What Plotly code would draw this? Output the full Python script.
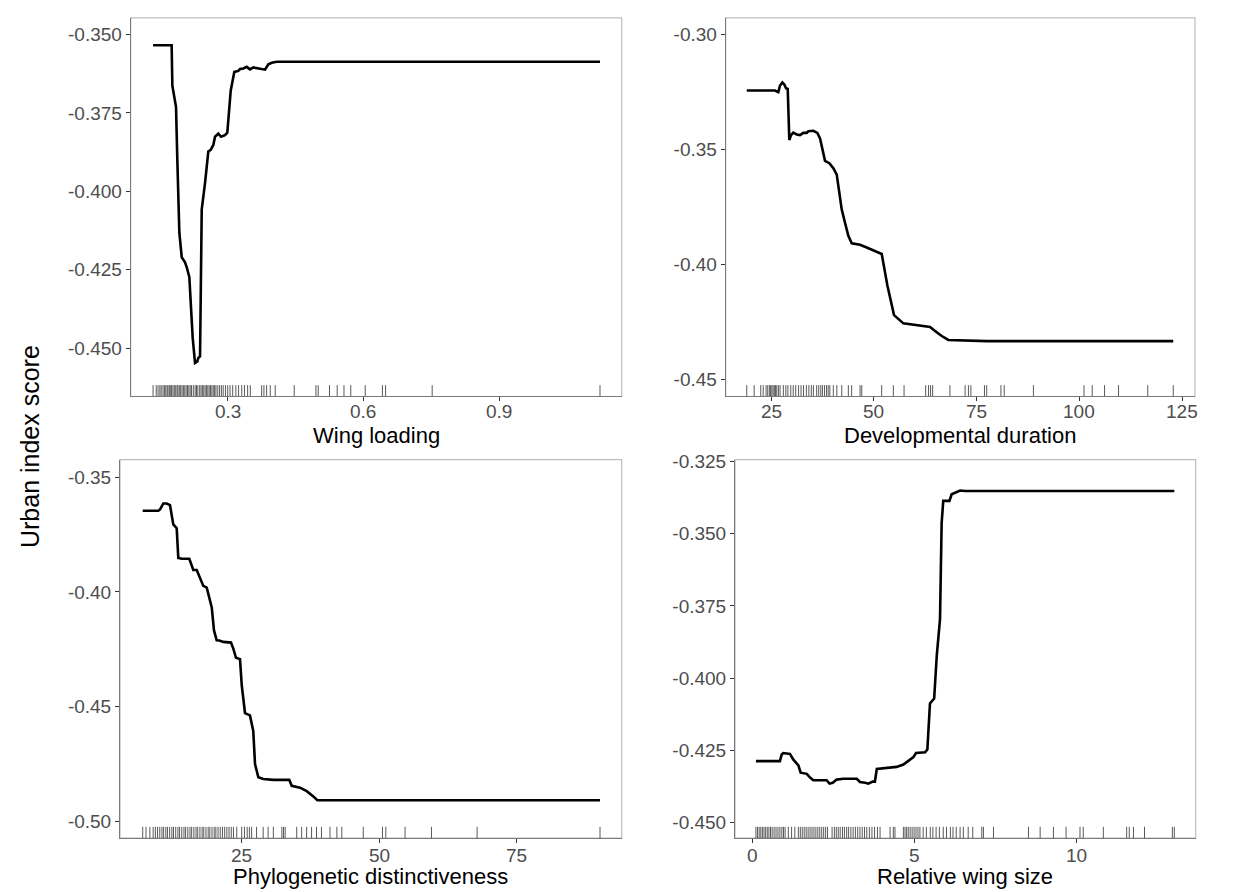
import plotly.graph_objects as go

# ---- Partial dependence curves (feature value, urban index score) ----
wl_x = [0.135, 0.176, 0.1776, 0.1857, 0.1886, 0.1930, 0.1983, 0.2056, 0.2094, 0.2151,
        0.2226, 0.2277, 0.2328, 0.2350, 0.2388, 0.2410, 0.2425, 0.2498, 0.2571, 0.2624,
        0.2682, 0.2719, 0.2792, 0.2852, 0.2940, 0.2991, 0.3066, 0.3146, 0.3234, 0.3272,
        0.3345, 0.3420, 0.3493, 0.3566, 0.3825, 0.3898, 0.3973, 0.4083, 1.123]
wl_y = [-0.3534, -0.3534, -0.3663, -0.3731, -0.3900, -0.4131, -0.4210, -0.4226, -0.4242, -0.4273,
        -0.4468, -0.4547, -0.4542, -0.4531, -0.4526, -0.4215, -0.4058, -0.3974, -0.3873, -0.3868,
        -0.3852, -0.3826, -0.3816, -0.3826, -0.3821, -0.3813, -0.3679, -0.3619, -0.3616, -0.3610,
        -0.3608, -0.3603, -0.3611, -0.3605, -0.3612, -0.3595, -0.3590, -0.3587, -0.3587]

dd_x = [19.1, 25.97, 26.78, 27.19, 27.75, 28.24, 28.65, 29.06, 29.45, 29.86,
        30.42, 31.25, 32.05, 32.86, 33.68, 34.07, 35.29, 36.26, 36.92, 37.72,
        38.13, 39.18, 40.15, 40.98, 42.19, 42.99, 43.80, 44.63, 46.65, 48.27,
        50.71, 51.92, 53.29, 54.91, 57.18, 59.61, 62.45, 63.67, 64.88, 66.51,
        68.11, 72.59, 77.45, 122.8]
dd_y = [-0.3244, -0.3244, -0.3251, -0.3222, -0.3209, -0.3218, -0.3234, -0.3237, -0.3459, -0.3438,
        -0.3427, -0.3435, -0.3438, -0.3428, -0.3428, -0.3421, -0.3419, -0.3428, -0.3452, -0.3517,
        -0.3550, -0.3560, -0.3582, -0.3610, -0.3761, -0.3819, -0.3876, -0.3909, -0.3915, -0.3927,
        -0.3945, -0.3955, -0.4092, -0.4221, -0.4257, -0.4264, -0.4271, -0.4273, -0.4290, -0.4312,
        -0.4329, -0.4330, -0.4334, -0.4334]

pd_x = [7.0, 9.84, 10.15, 10.75, 11.36, 11.96, 12.56, 13.18, 13.47, 14.09,
        15.47, 15.78, 16.2, 16.82, 17.42, 18.02, 18.64, 18.93, 19.55, 19.96,
        20.45, 20.93, 21.65, 23.05, 23.47, 23.96, 24.69, 25.0, 25.6, 26.5,
        27.1, 27.42, 28.02, 28.93, 30.75, 33.65, 34.09, 35.6, 36.82, 38.02,
        38.75, 90.15]
pd_y = [-0.3647, -0.3647, -0.3641, -0.3615, -0.3615, -0.3622, -0.3706, -0.3723, -0.3852, -0.3856,
        -0.3856, -0.3874, -0.3905, -0.3905, -0.3938, -0.3974, -0.3982, -0.4010, -0.4068, -0.4168,
        -0.4211, -0.4212, -0.4218, -0.4221, -0.4247, -0.4287, -0.4293, -0.4405, -0.4528, -0.4538,
        -0.4606, -0.4750, -0.4808, -0.4815, -0.4819, -0.4819, -0.4845, -0.4853, -0.4868, -0.4891,
        -0.4908, -0.4908]

rw_x = [0.10, 0.84, 0.895, 0.944, 1.15, 1.25, 1.41, 1.48, 1.67, 1.77,
        1.87, 2.28, 2.37, 2.47, 2.59, 2.80, 3.21, 3.31, 3.47, 3.57,
        3.70, 3.77, 3.83, 4.14, 4.44, 4.65, 4.80, 4.96, 5.04, 5.32,
        5.39, 5.47, 5.60, 5.68, 5.78, 5.83, 5.88, 6.07, 6.14, 6.27,
        6.40, 6.55, 13.01]
rw_y = [-0.4288, -0.4288, -0.4265, -0.4260, -0.4263, -0.4282, -0.4303, -0.4328, -0.4332, -0.4345,
        -0.4354, -0.4354, -0.4366, -0.4363, -0.4352, -0.4349, -0.4349, -0.4360, -0.4363, -0.4366,
        -0.4359, -0.4359, -0.4315, -0.4311, -0.4308, -0.4300, -0.4288, -0.4274, -0.4260, -0.4257,
        -0.4248, -0.4088, -0.4071, -0.3922, -0.3796, -0.3464, -0.3386, -0.3386, -0.3363, -0.3355,
        -0.3350, -0.3352, -0.3352]

# ---- Observed species values (rug) ----
wl_rug = [0.135, 0.142, 0.146, 0.150, 0.153, 0.157, 0.160, 0.163, 0.166, 0.168,
          0.171, 0.174, 0.176, 0.179, 0.182, 0.185, 0.188, 0.190, 0.193, 0.196,
          0.199, 0.202, 0.205, 0.208, 0.211, 0.214, 0.217, 0.220, 0.224, 0.228,
          0.231, 0.234, 0.238, 0.241, 0.244, 0.247, 0.250, 0.253, 0.256, 0.259,
          0.262, 0.265, 0.268, 0.271, 0.274, 0.278, 0.282, 0.286, 0.290, 0.295,
          0.300, 0.305, 0.311, 0.318, 0.324, 0.331, 0.337, 0.344, 0.350, 0.375,
          0.380, 0.386, 0.394, 0.405, 0.447, 0.495, 0.500, 0.525, 0.542, 0.557,
          0.572, 0.604, 0.642, 0.649, 0.752, 1.123]
dd_rug = [19.1, 20.9, 22.5, 23.1, 23.8, 24.2, 24.6, 24.9, 25.2, 25.5,
          25.8, 26.1, 26.4, 26.8, 27.2, 28.0, 28.6, 29.1, 29.8, 30.4,
          31.0, 31.7, 32.3, 32.9, 33.6, 34.2, 34.8, 35.3, 36.1, 36.6,
          37.1, 37.5, 38.0, 38.5, 38.9, 39.3, 40.15, 41.0, 42.2, 43.8,
          44.6, 46.65, 47.06, 51.9, 54.75, 57.35, 62.6, 63.3, 63.8, 64.3,
          68.5, 72.2, 73.0, 73.6, 76.9, 77.45, 80.9, 81.7, 88.8, 101.1,
          103.1, 106.1, 109.5, 116.6, 122.8]
pd_rug = [7.0, 7.6, 8.3, 8.9, 9.3, 9.7, 10.1, 10.5, 10.8, 11.2,
          11.5, 11.9, 12.3, 12.6, 13.0, 13.4, 13.7, 14.1, 14.5, 14.8,
          15.2, 15.6, 15.9, 16.3, 16.7, 17.0, 17.4, 17.8, 18.1, 18.5,
          18.9, 19.2, 19.6, 20.0, 20.3, 20.7, 21.1, 21.5, 21.9, 22.3,
          22.7, 23.1, 23.5, 24.1, 25.0, 25.5, 26.0, 26.4, 26.8, 27.7,
          28.9, 29.8, 30.75, 32.3, 32.6, 32.9, 35.0, 35.9, 36.8, 37.7,
          38.6, 39.5, 41.05, 42.3, 43.2, 47.1, 50.6, 51.2, 54.7, 59.5,
          67.8, 90.15]
rw_rug = [0.10, 0.15, 0.20, 0.25, 0.30, 0.35, 0.40, 0.45, 0.50, 0.55,
          0.60, 0.66, 0.72, 0.78, 0.84, 0.90, 0.95, 1.00, 1.10, 1.20,
          1.30, 1.41, 1.47, 1.53, 1.59, 1.65, 1.71, 1.77, 1.83, 1.89,
          1.95, 2.01, 2.07, 2.13, 2.19, 2.25, 2.31, 2.45, 2.52, 2.58,
          2.64, 2.70, 2.77, 2.83, 2.90, 2.96, 3.03, 3.10, 3.17, 3.24,
          3.31, 3.38, 3.45, 3.52, 3.60, 3.68, 3.76, 3.85, 3.93, 4.24,
          4.34, 4.39, 4.65, 4.70, 4.75, 4.80, 4.86, 4.92, 4.98, 5.04,
          5.10, 5.16, 5.26, 5.36, 5.48, 5.56, 5.66, 5.76, 5.88, 5.98,
          6.10, 6.18, 6.28, 6.40, 6.50, 6.65, 6.79, 7.07, 7.12, 7.43,
          8.51, 8.87, 9.28, 9.67, 10.10, 10.20, 10.82, 11.54, 11.62, 11.75,
          12.09, 12.95, 13.01]

# ---- Axis ticks ----
wl_xticks = [0.3, 0.6, 0.9]
wl_yticks = [-0.450, -0.425, -0.400, -0.375, -0.350]
dd_xticks = [25, 50, 75, 100, 125]
dd_yticks = [-0.45, -0.40, -0.35, -0.30]
pd_xticks = [25, 50, 75]
pd_yticks = [-0.50, -0.45, -0.40, -0.35]
rw_xticks = [0, 5, 10]
rw_yticks = [-0.450, -0.425, -0.400, -0.375, -0.350, -0.325]

# ---- Layout geometry (pixels) ----
W, H = 1258, 892
FONT = "Liberation Sans, Arial, sans-serif"
TICK_FONT = dict(family=FONT, size=19, color="#4D4D4D")

panels = [
    dict(x=wl_x, y=wl_y, rug=wl_rug, title="Wing loading",
         box=(130.7, 621.7, 10, 392), xr=[0.0855, 1.171], yr=[-0.4654, -0.3447],
         xt=wl_xticks, xfmt="{:.1f}", yt=wl_yticks, yfmt="{:.3f}", lab_dy=15, tit_dy=39),
    dict(x=dd_x, y=dd_y, rug=dd_rug, title="Developmental duration",
         box=(725.7, 1195.0, 10, 392), xr=[13.98, 128.09], yr=[-0.4575, -0.2928],
         xt=dd_xticks, xfmt="{:d}", yt=dd_yticks, yfmt="{:.2f}", lab_dy=15, tit_dy=39),
    dict(x=pd_x, y=pd_y, rug=pd_rug, title="Phylogenetic distinctiveness",
         box=(120.0, 621.7, 455.7, 837.7), xr=[2.87, 94.09], yr=[-0.5073, -0.3424],
         xt=pd_xticks, xfmt="{:d}", yt=pd_yticks, yfmt="{:.2f}", lab_dy=17, tit_dy=39),
    dict(x=rw_x, y=rw_y, rug=rw_rug, title="Relative wing size",
         box=(735.0, 1195.7, 455.7, 837.7), xr=[-0.546, 13.67], yr=[-0.4555, -0.3243],
         xt=rw_xticks, xfmt="{:d}", yt=rw_yticks, yfmt="{:.3f}", lab_dy=17, tit_dy=39),
]

fig = go.Figure()
layout = dict(width=W, height=H, margin=dict(l=0, r=0, t=0, b=0),
              paper_bgcolor="white", plot_bgcolor="white", showlegend=False,
              font=dict(family=FONT), shapes=[], annotations=[])

axis_common = dict(showgrid=False, zeroline=False, showline=True, linecolor="#7A7A7A",
                   linewidth=1, ticks="outside", ticklen=4, tickwidth=1, tickcolor="#333333",
                   tickfont=TICK_FONT, mirror=False)

for i, p in enumerate(panels, start=1):
    sfx = "" if i == 1 else str(i)
    xa, ya = "x" + sfx, "y" + sfx
    left, right, top, bottom = p["box"]
    xdom = [left / W, right / W]
    ydom = [1 - bottom / H, 1 - top / H]

    # x tick labels are placed as annotations just under the axis
    layout["xaxis" + sfx] = dict(axis_common, domain=xdom, range=p["xr"], anchor=ya,
                                 tickvals=p["xt"], showticklabels=False)
    layout["yaxis" + sfx] = dict(axis_common, domain=ydom, range=p["yr"], anchor=xa,
                                 tickvals=p["yt"], ticktext=[p["yfmt"].format(v) for v in p["yt"]])
    for v in p["xt"]:
        layout["annotations"].append(dict(text=p["xfmt"].format(v), xref=xa, yref="paper",
                                          x=v, y=1 - (bottom + p["lab_dy"]) / H,
                                          xanchor="center", yanchor="middle", showarrow=False,
                                          font=TICK_FONT))

    # rug: short ticks rising 3% of the panel height from the bottom
    y0 = p["yr"][0]
    y1 = y0 + 0.03 * (p["yr"][1] - p["yr"][0])
    rx, ry = [], []
    for v in p["rug"]:
        rx += [v, v, None]
        ry += [y0, y1, None]
    fig.add_trace(go.Scatter(x=rx, y=ry, mode="lines", xaxis=xa, yaxis=ya,
                             line=dict(color="rgba(60,60,60,0.85)", width=1), hoverinfo="skip"))

    # partial dependence line
    fig.add_trace(go.Scatter(x=p["x"], y=p["y"], mode="lines", xaxis=xa, yaxis=ya,
                             line=dict(color="black", width=2.6)))

    # light panel border
    layout["shapes"].append(dict(type="rect", xref=xa + " domain", yref=ya + " domain",
                                 x0=0, x1=1, y0=0, y1=1, layer="below",
                                 line=dict(color="#BDBDBD", width=1.2)))

    # x-axis title below the panel
    layout["annotations"].append(dict(text=p["title"], xref="paper", yref="paper",
                                      x=(left + right) / 2 / W, y=1 - (bottom + p["tit_dy"]) / H,
                                      xanchor="center", yanchor="middle", showarrow=False,
                                      font=dict(family=FONT, size=22, color="black")))

# shared y-axis title
layout["annotations"].append(dict(text="Urban index score", xref="paper", yref="paper",
                                  x=30 / W, y=1 - 443 / H, textangle=-90,
                                  xanchor="center", yanchor="middle", showarrow=False,
                                  font=dict(family=FONT, size=25, color="black")))

fig.update_layout(**layout)
fig.write_html("out.html")
